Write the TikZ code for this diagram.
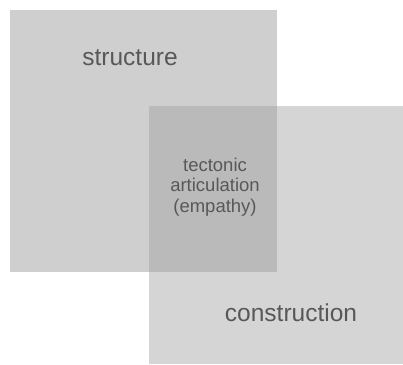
\documentclass[tikz,border=0pt]{standalone}
\usepackage{fontspec}
\setmainfont{Liberation Sans}
\definecolor{sqA}{HTML}{CFCFCF}
\definecolor{sqB}{HTML}{D5D5D5}
\definecolor{sqAB}{HTML}{BABABA}
\definecolor{ink}{HTML}{585858}
\begin{document}
\begin{tikzpicture}[x=1pt,y=-1pt,
  label text/.style={text=ink, inner sep=0pt, align=center}]
\useasboundingbox (0,0) rectangle (403,364);
\fill[white] (0,0) rectangle (403,364);
% the two overlapping squares and their shared region
\fill[sqA] (10,10) rectangle (277,272);
\fill[sqB] (149,106) rectangle (403,364);
\fill[sqAB] (149,106) rectangle (277,272);
% labels
\node[label text, font=\fontsize{24.5}{28}\selectfont] (structure) at (130,58) {structure};
\node[label text, font=\fontsize{24.5}{28}\selectfont] (construction) at (291,313) {construction};
\node[label text, font=\fontsize{18.5}{20.5}\selectfont] (tectonic) at (215,187) {tectonic\\articulation\\(empathy)};
\end{tikzpicture}
\end{document}
